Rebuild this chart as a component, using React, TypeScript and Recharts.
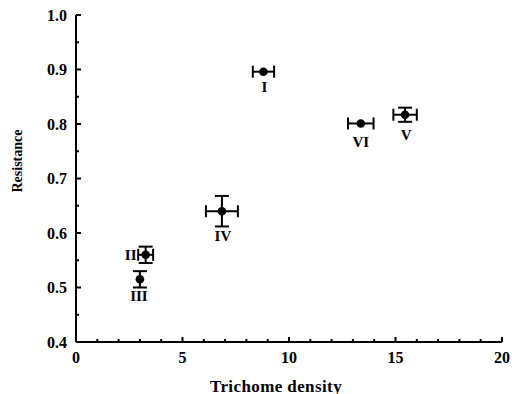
import React from 'react';
import { ScatterChart, Scatter, XAxis, YAxis, ErrorBar } from 'recharts';

// values
const groups = ['I', 'II', 'III', 'IV', 'V', 'VI'];
const trichomeDensity = [8.8, 3.27, 3.0, 6.85, 15.45, 13.37];
const densityError = [0.5, 0.35, 0, 0.75, 0.55, 0.6];
const resistance = [0.896, 0.56, 0.515, 0.64, 0.817, 0.801];
const resistanceError = [0, 0.015, 0.015, 0.028, 0.013, 0];

const xTicks = [0, 1, 2, 3, 4, 5, 6, 7, 8, 9, 10, 11, 12, 13, 14, 15, 16, 17, 18, 19, 20];
const yTicks = [0.4, 0.45, 0.5, 0.55, 0.6, 0.65, 0.7, 0.75, 0.8, 0.85, 0.9, 0.95, 1.0];

const data = groups.map((g, i) => ({
  group: g,
  x: trichomeDensity[i],
  y: resistance[i],
  xErr: densityError[i],
  yErr: resistanceError[i],
}));

const FONT = "'Liberation Serif', 'Times New Roman', serif";

// where the roman numeral sits relative to its point
const labelPlacement: Record<string, { dx: number; dy: number }> = {
  I: { dx: 1, dy: 15 },
  II: { dx: -15, dy: 0 },
  III: { dx: -1, dy: 16 },
  IV: { dx: 1, dy: 25 },
  V: { dx: 1, dy: 20 },
  VI: { dx: 0, dy: 18 },
};

const YTick = (props: any) => {
  const { x, y, payload } = props;
  const v = payload.value as number;
  const major = Math.abs(v * 10 - Math.round(v * 10)) < 1e-6;
  return (
    <g>
      <line x1={x} y1={y} x2={x + (major ? 5 : 3)} y2={y} stroke="#000" strokeWidth={2} />
      {major && (
        <text x={x - 9} y={y} dy="0.35em" textAnchor="end" fontFamily={FONT} fontWeight="bold" fontSize={16} fill="#000">
          {v.toFixed(1)}
        </text>
      )}
    </g>
  );
};

const XTick = (props: any) => {
  const { x, y, payload } = props;
  const v = payload.value as number;
  const major = v % 5 === 0;
  return (
    <g>
      <line x1={x} y1={y} x2={x} y2={y - (major ? 5 : 3)} stroke="#000" strokeWidth={2} />
      {major && (
        <text x={x} y={y + 15} dy="0.35em" textAnchor="middle" fontFamily={FONT} fontWeight="bold" fontSize={16} fill="#000">
          {v}
        </text>
      )}
    </g>
  );
};

const Point = (props: any) => {
  const { cx, cy, payload } = props;
  const p = labelPlacement[payload.group] || { dx: 0, dy: 16 };
  return (
    <g>
      <circle cx={cx} cy={cy} r={4.3} fill="#000" />
      <text
        x={cx + p.dx}
        y={cy + p.dy}
        dy="0.35em"
        textAnchor="middle"
        fontFamily={FONT}
        fontWeight="bold"
        fontSize={15}
        fill="#000"
      >
        {payload.group}
      </text>
    </g>
  );
};

export default function App() {
  return (
    <div style={{ position: 'absolute', left: 0, top: 0, width: 512, height: 394, background: '#fff' }}>
      <ScatterChart width={512} height={394} margin={{ top: 15, right: 10, left: 0, bottom: 0 }}>
        <XAxis
          type="number"
          dataKey="x"
          domain={[0, 20]}
          ticks={xTicks}
          interval={0}
          allowDataOverflow
          height={52}
          tickSize={0}
          tickMargin={0}
          tickLine={false}
          axisLine={{ stroke: '#000', strokeWidth: 2 }}
          tick={<XTick />}
          label={{
            content: () => (
              <text x={276} y={386} textAnchor="middle" dominantBaseline="central" fontFamily={FONT} fontWeight="bold" fontSize={17} letterSpacing={0.4} fill="#000">
                Trichome density
              </text>
            ),
          }}
        />
        <YAxis
          type="number"
          dataKey="y"
          domain={[0.4, 1.0]}
          ticks={yTicks}
          interval={0}
          allowDataOverflow
          width={76}
          tickSize={0}
          tickMargin={0}
          tickLine={false}
          axisLine={{ stroke: '#000', strokeWidth: 2 }}
          tick={<YTick />}
          label={{
            content: () => (
              <text x={17} y={161} transform="rotate(-90 17 161)" textAnchor="middle" dominantBaseline="central" fontFamily={FONT} fontWeight="bold" fontSize={14} fill="#000">
                Resistance
              </text>
            ),
          }}
        />
        <Scatter data={data} shape={<Point />} isAnimationActive={false}>
          <ErrorBar dataKey="xErr" direction="x" width={6} stroke="#000" strokeWidth={2} isAnimationActive={false} />
          <ErrorBar dataKey="yErr" direction="y" width={7} stroke="#000" strokeWidth={2} isAnimationActive={false} />
        </Scatter>
      </ScatterChart>
    </div>
  );
}
